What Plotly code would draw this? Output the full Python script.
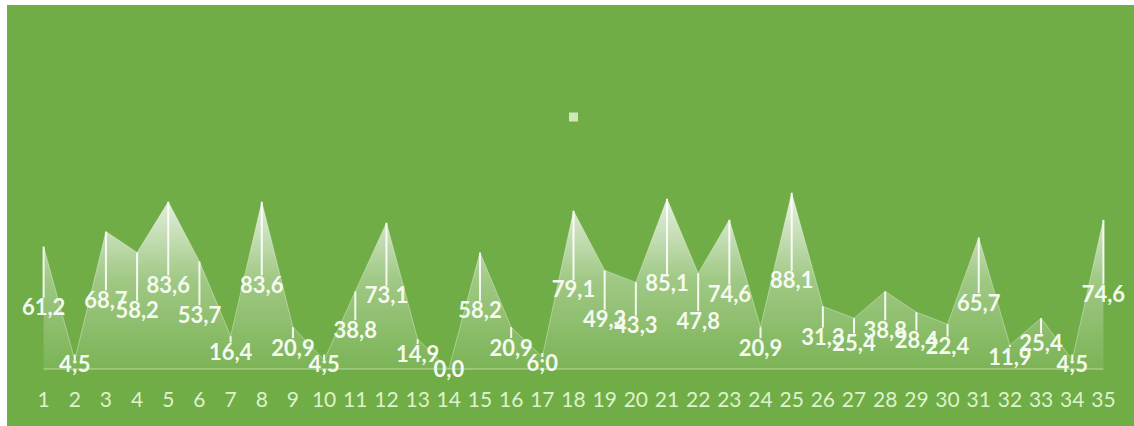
import plotly.graph_objects as go

categories = list(range(1, 36))
values = [61.2, 4.5, 68.7, 58.2, 83.6, 53.7, 16.4, 83.6, 20.9, 4.5,
          38.8, 73.1, 14.9, 0.0, 58.2, 20.9, 6.0, 79.1, 49.3, 43.3,
          85.1, 47.8, 74.6, 20.9, 88.1, 31.3, 25.4, 38.8, 28.4, 22.4,
          65.7, 11.9, 25.4, 4.5, 74.6]
label_texts = ["61,2", "4;5", "68,7", "58,2", "83,6", "53,7", "16,4", "83,6", "20,9", "4;5",
               "38,8", "73,1", "14,9", "0,0", "58,2", "20,9", "6;0", "79,1", "49,3", "43,3",
               "85,1", "47,8", "74,6", "20,9", "88,1", "31,3", "25,4", "38,8", "28,4", "22,4",
               "65,7", "11,9", "25,4", "4;5", "74,6"]
stray_x = [18]
stray_y = [126]

GREEN = "rgb(112,173,71)"
vmax = max(values)

fig = go.Figure()

# area with vertical white gradient
fig.add_trace(go.Scatter(
    x=categories, y=values, mode="lines", fill="tozeroy",
    line=dict(color="rgba(255,255,255,0.35)", width=1),
    fillgradient=dict(type="vertical", start=0, stop=vmax,
                      colorscale=[[0, "rgba(255,255,255,0.08)"],
                                  [0.5, "rgba(255,255,255,0.33)"],
                                  [1, "rgba(255,255,255,0.85)"]]),
    hoverinfo="skip", showlegend=False, cliponaxis=False))

# baseline
fig.add_trace(go.Scatter(
    x=categories, y=[0] * len(categories), mode="lines",
    line=dict(color="rgba(220,240,205,0.45)", width=1.5),
    hoverinfo="skip", showlegend=False, cliponaxis=False))

# drop lines from each point toward its label
dx, dy = [], []
for c, v in zip(categories, values):
    if v <= 0:
        continue
    dx += [c, c, None]
    dy += [v, v / 2 + 5, None]
fig.add_trace(go.Scatter(
    x=dx, y=dy, mode="lines",
    line=dict(color="rgba(255,255,255,0.9)", width=2),
    hoverinfo="skip", showlegend=False, cliponaxis=False))

# data labels at half height
fig.add_trace(go.Scatter(
    x=categories, y=[v / 2 - 1 for v in values], mode="text",
    text=label_texts, textposition="middle center",
    textfont=dict(family="Lato", size=22, color="rgb(245,250,240)", weight="bold"),
    hoverinfo="skip", showlegend=False, cliponaxis=False))

# small stray marker
fig.add_trace(go.Scatter(
    x=stray_x, y=stray_y, mode="markers",
    marker=dict(symbol="square", size=9, color="rgba(230,246,215,0.8)", line=dict(width=0)),
    hoverinfo="skip", showlegend=False, cliponaxis=False))

W, H = 1134, 426
L, R, T, B = 28, 15, 5, 51
pw, ph = W - L - R, H - T - B

fig.add_shape(type="rect", xref="paper", yref="paper",
              x0=(7 - L) / pw, x1=(W - L) / pw,
              y0=-(B) / ph - 0.01, y1=1.0,
              fillcolor=GREEN, line=dict(width=0), layer="below")

fig.update_layout(
    width=W, height=H,
    margin=dict(l=L, r=R, t=T, b=B),
    paper_bgcolor="white",
    plot_bgcolor="rgba(0,0,0,0)",
    xaxis=dict(range=[0.5, 35.5], tickmode="array", tickvals=categories,
               ticktext=[str(c) for c in categories],
               tickfont=dict(family="Lato", size=21, color="rgb(222,242,205)"),
               showgrid=False, zeroline=False, showline=False, ticks="",
               ticklabelstandoff=10, fixedrange=True),
    yaxis=dict(range=[-3, 182], visible=False, showgrid=False, zeroline=False,
               fixedrange=True),
    showlegend=False,
)

fig.write_html("out.html")
